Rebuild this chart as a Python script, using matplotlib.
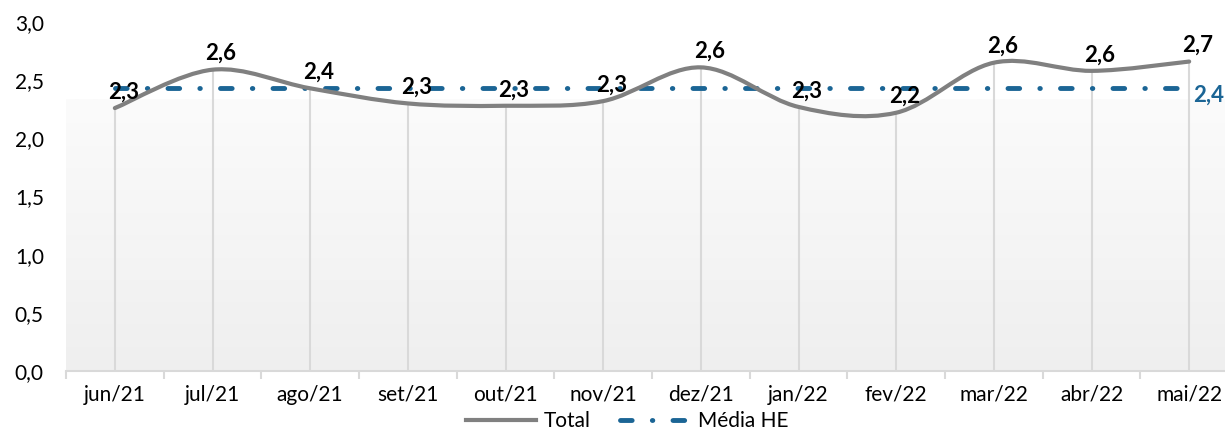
import numpy as np
import matplotlib
matplotlib.use("Agg")
import matplotlib.pyplot as plt
from matplotlib.path import Path
from matplotlib.patches import PathPatch
from matplotlib.lines import Line2D
from matplotlib.colors import LinearSegmentedColormap

# Datos
meses = ["jun/21", "jul/21", "ago/21", "set/21", "out/21", "nov/21",
         "dez/21", "jan/22", "fev/22", "mar/22", "abr/22", "mai/22"]
total = [2.26, 2.59, 2.43, 2.30, 2.28, 2.32, 2.61, 2.27, 2.22, 2.65, 2.58, 2.66]
media_he = [2.43] * 12
y_ticks = [0.0, 0.5, 1.0, 1.5, 2.0, 2.5, 3.0]

GRIS = "#808080"
AZUL = "#1B6595"

plt.rcParams['font.family'] = ['Lato', 'DejaVu Sans']


def fmt(v):
    return ("%.1f" % v).replace(".", ",")


# Curva suavizada estilo Excel (bezier con tangentes catmull-rom)
def curva_suave(xs, ys):
    pts = np.column_stack([xs, ys]).astype(float)
    n = len(pts)
    verts = [pts[0]]
    codes = [Path.MOVETO]
    for i in range(n - 1):
        p_prev = pts[i - 1] if i > 0 else pts[i]
        p_next2 = pts[i + 2] if i + 2 < n else pts[i + 1]
        c1 = pts[i] + (pts[i + 1] - p_prev) / 6.0
        c2 = pts[i + 1] - (p_next2 - pts[i]) / 6.0
        verts += [c1, c2, pts[i + 1]]
        codes += [Path.CURVE4] * 3
    return Path(verts, codes)


fig = plt.figure(figsize=(12.25, 4.3), dpi=100)
ax = fig.add_axes([66 / 1225, 1 - 371 / 430, (1238 - 66) / 1225, (371 - 22) / 430])
x = np.arange(len(meses))

ax.set_xlim(-0.5, len(meses) - 0.5)
ax.set_ylim(0, 3.0)

# Fondo degradado del area
cmap = LinearSegmentedColormap.from_list("fondo", ["#efefef", "#fbfbfb"])
grad = np.linspace(0, 1, 100).reshape(-1, 1)
ax.imshow(grad, extent=(-0.5, len(meses) - 0.5, 0, 2.33), origin="lower",
          aspect="auto", cmap=cmap, zorder=0)

# Lineas verticales desde cada punto
ax.vlines(x, 0, total, colors="#d9d9d9", linewidth=1.5, zorder=1)

# Media HE
ax.plot(x, media_he, color=AZUL, linewidth=3.5, dashes=(2.4, 4.15, 0.1, 4.15),
        dash_capstyle="round", zorder=3)

# Total (suavizado)
patch = PathPatch(curva_suave(x, total), fill=False, edgecolor=GRIS, linewidth=3,
                  capstyle="round", joinstyle="round", zorder=4)
ax.add_patch(patch)

# Etiquetas de datos
for i, v in enumerate(total):
    ax.annotate(fmt(v), (x[i], v), xytext=(6, 4), textcoords="offset points",
                ha="center", va="bottom", fontsize=16, fontweight="bold",
                color="black", zorder=5)
ax.annotate(fmt(media_he[-1]), (x[-1], media_he[-1]), xytext=(3, -5),
            textcoords="offset points", ha="left", va="center", fontsize=16,
            fontweight="bold", color=AZUL, zorder=5)

# Ejes
for s in ["top", "right", "left"]:
    ax.spines[s].set_visible(False)
ax.spines["bottom"].set_color("#d9d9d9")
ax.spines["bottom"].set_linewidth(1.5)

ax.set_yticks(y_ticks)
ax.set_yticklabels([fmt(v) for v in y_ticks])
ax.tick_params(axis="y", length=0, pad=16, labelsize=15)

ax.set_xticks(x)
ax.set_xticklabels(meses)
ax.set_xticks(np.arange(-0.5, len(meses)), minor=True)
ax.tick_params(axis="x", which="major", length=0, pad=10, labelsize=15)
ax.tick_params(axis="x", which="minor", length=6, width=1.5, color="#d9d9d9")

# Leyenda
handles = [Line2D([0], [0], color=GRIS, linewidth=3),
           Line2D([0], [0], color=AZUL, linewidth=3.5, dashes=(2.4, 4.15, 0.1, 4.15),
                  dash_capstyle="round")]
fig.legend(handles, ["Total", "Média HE"], loc="center", bbox_to_anchor=(627 / 1225, 1 - 421 / 430),
           ncol=2, frameon=False, fontsize=15, handlelength=3.4, columnspacing=1.4,
           handletextpad=0.35)

fig.savefig("out.png", dpi=100)
